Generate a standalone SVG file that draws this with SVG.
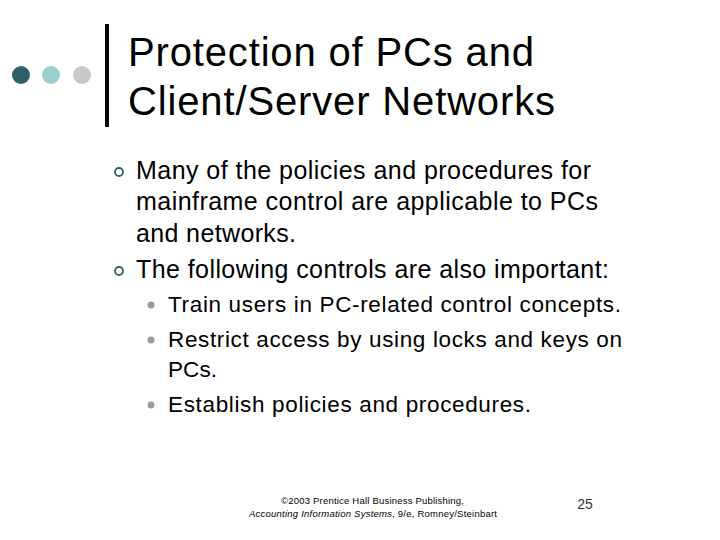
<svg xmlns="http://www.w3.org/2000/svg" width="720" height="540" viewBox="0 0 720 540">
<style>
text{font-family:"Liberation Sans",Arial,sans-serif;fill:#000}
.t{font-size:40px}.b{font-size:25px}.s{font-size:22.5px}.f{font-size:9.5px}
.hb{fill:none;stroke:#2f6066;stroke-width:1.8}
.sb{fill:#9a9a9a}
</style>
<rect width="720" height="540" fill="#fff"/>
<g id="deco">
<circle cx="21" cy="75" r="9" fill="#2f6066"/>
<circle cx="51" cy="75" r="9" fill="#9ccdd0"/>
<circle cx="82" cy="75" r="9" fill="#c8c8c8"/>
<rect x="105" y="24" width="4" height="103" fill="#000"/>
</g>
<g id="title">
<text class="t" x="128" y="66" textLength="406">Protection of PCs and</text>
<text class="t" x="128" y="115" textLength="427">Client/Server Networks</text>
</g>
<g id="body">
<circle class="hb" cx="119" cy="172" r="4"/>
<text class="b" x="136" y="179" textLength="455">Many of the policies and procedures for</text>
<text class="b" x="136" y="210" textLength="462">mainframe control are applicable to PCs</text>
<text class="b" x="136" y="242" textLength="160">and networks.</text>
<circle class="hb" cx="119" cy="271" r="4"/>
<text class="b" x="136" y="278" textLength="473">The following controls are also important:</text>
<circle class="sb" cx="151" cy="305" r="3.5"/>
<text class="s" x="168" y="312" textLength="453">Train users in PC-related control concepts.</text>
<circle class="sb" cx="151" cy="340" r="3.5"/>
<text class="s" x="168" y="347" textLength="454">Restrict access by using locks and keys on</text>
<text class="s" x="168" y="377" textLength="49">PCs.</text>
<circle class="sb" cx="151" cy="405" r="3.5"/>
<text class="s" x="168" y="412" textLength="363">Establish policies and procedures.</text>
</g>
<g id="footer">
<text class="f" x="281" y="504" textLength="183">©2003 Prentice Hall Business Publishing,</text>
<text class="f" x="249" y="517" textLength="248"><tspan font-style="italic">Accounting Information Systems</tspan>, 9/e, Romney/Steinbart</text>
<text x="585" y="509" text-anchor="middle" style="font-size:14px;fill:#333">25</text>
</g>
</svg>
